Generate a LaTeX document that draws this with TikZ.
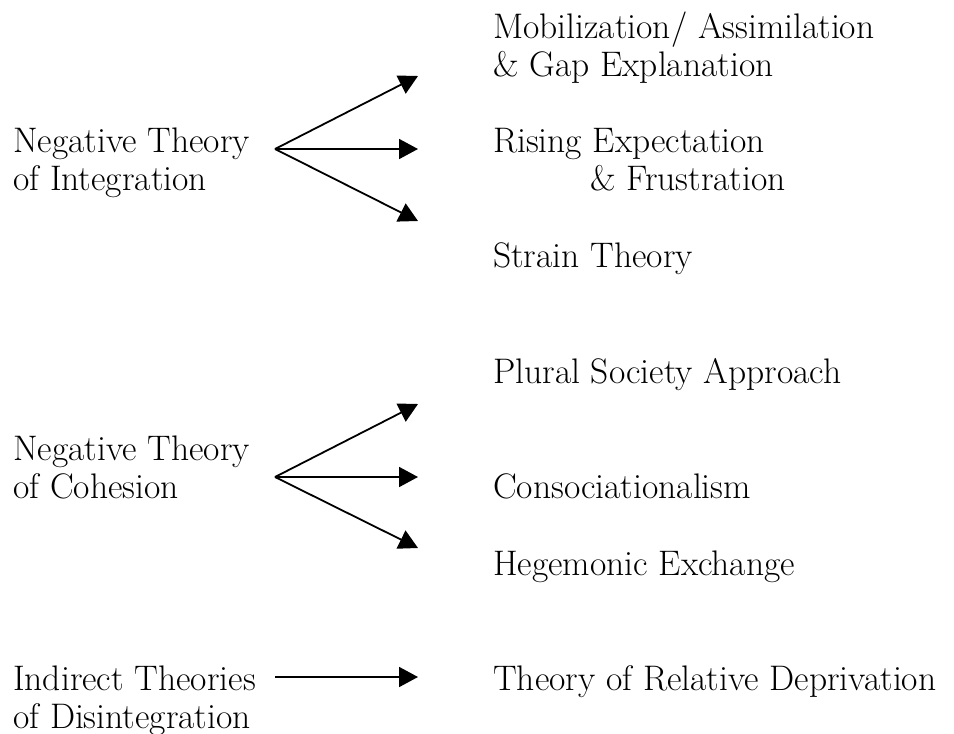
\documentclass[tikz,border=0pt]{standalone}
\usetikzlibrary{arrows.meta}
\begin{document}
\begin{tikzpicture}[x=1pt,y=-1pt,
  lbl/.style={anchor=base west,inner sep=0pt,align=left,font=\fontsize{35.5}{38}\selectfont},
  arr/.style={line width=1.8pt,-{Triangle[length=19pt,width=20pt]}}]
\useasboundingbox (0,0) rectangle (954,734);
% left nodes (anchor = baseline of last line)
\node[lbl] (nti) at (13,190) {Negative Theory\\of Integration};
\node[lbl] (ntc) at (13,498) {Negative Theory\\of Cohesion};
\node[lbl] (itd) at (13,728) {Indirect Theories\\of Disintegration};
% right nodes
\node[lbl] (mob) at (493,76) {Mobilization/ Assimilation\\\& Gap Explanation};
\node[lbl] (ris) at (493,190) {Rising Expectation\\\hspace{97pt}\& Frustration};
\node[lbl] (str) at (493,267) {Strain Theory};
\node[lbl] (plu) at (493,383) {Plural Society Approach};
\node[lbl] (con) at (493,498) {Consociationalism};
\node[lbl] (heg) at (493,575) {Hegemonic Exchange};
\node[lbl] (rel) at (493,690) {Theory of Relative Deprivation};
% connector ends
\coordinate (s1) at (275,149);
\coordinate (t1a) at (418,76);
\coordinate (t1b) at (418,149);
\coordinate (t1c) at (418,221);
\coordinate (s2) at (275,477);
\coordinate (t2a) at (418,404);
\coordinate (t2b) at (418,477);
\coordinate (t2c) at (418,548);
\coordinate (s3) at (275,677);
\coordinate (t3) at (418,677);
\draw[arr] (s1) -- (t1a);
\draw[arr] (s1) -- (t1b);
\draw[arr] (s1) -- (t1c);
\draw[arr] (s2) -- (t2a);
\draw[arr] (s2) -- (t2b);
\draw[arr] (s2) -- (t2c);
\draw[arr] (s3) -- (t3);
\end{tikzpicture}
\end{document}
